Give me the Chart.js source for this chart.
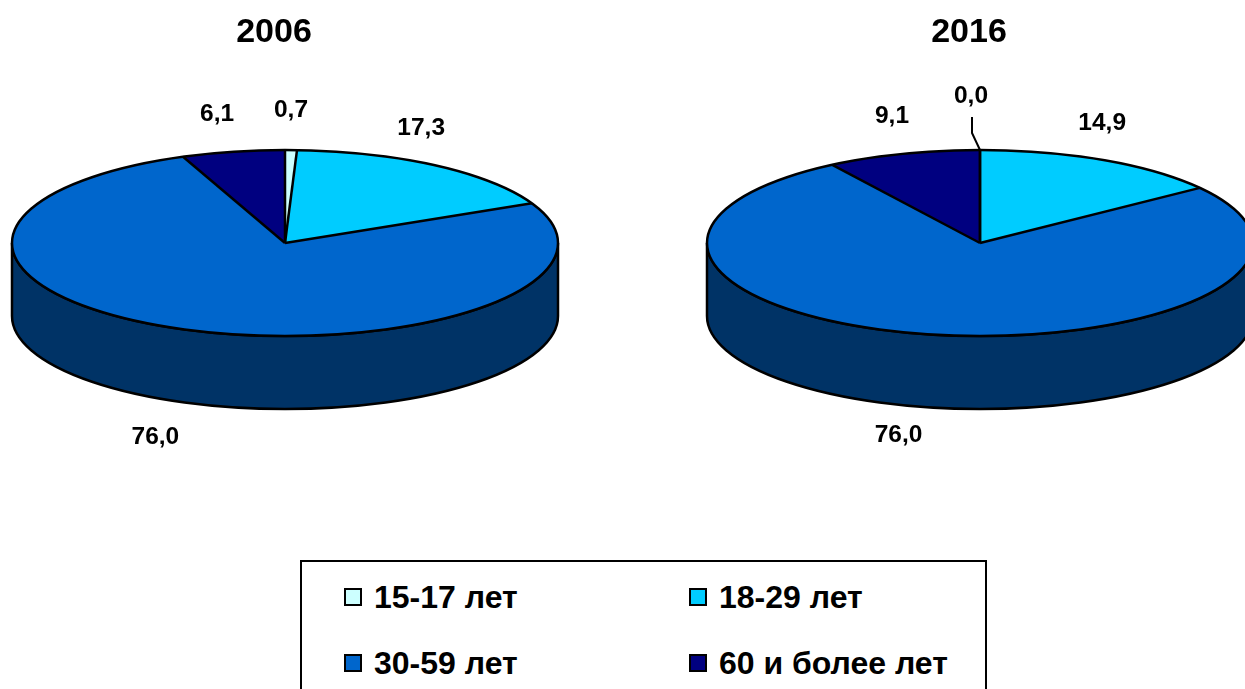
<!DOCTYPE html>
<html>
<head>
<meta charset="utf-8">
<script src="https://cdn.jsdelivr.net/npm/chart.js@4/dist/chart.umd.min.js"></script>
<style>
  html, body { margin: 0; padding: 0; background: #fff; }
  body { position: relative; width: 1245px; height: 689px; overflow: hidden; font-family: "Liberation Sans", Arial, sans-serif; }
  canvas { position: absolute; top: 0; }
  #pie1 { left: 0; }
  #pie2 { left: 695px; }
  #legendBox { position: absolute; left: 300px; top: 560px; width: 641px; height: 140px; border: 2px solid #000;
    display: grid; grid-template-columns: 345px 296px; grid-auto-rows: 66px; padding: 2px 0 0 42px; box-sizing: content-box; }
  .item { display: flex; align-items: center; font-weight: bold; font-size: 32px; color: #000; white-space: nowrap; }
  .swatch { width: 14px; height: 14px; border: 2px solid #000; margin-right: 12px; flex: none; }
</style>
</head>
<body>
<canvas id="pie1" width="570" height="480"></canvas>
<canvas id="pie2" width="570" height="480"></canvas>
<div id="legendBox"></div>
<script>
var categories = ['15-17 лет', '18-29 лет', '30-59 лет', '60 и более лет'];
var values2006 = [0.7, 17.3, 76.0, 6.1];
var values2016 = [0.0, 14.9, 76.0, 9.1];
var colors = ['#CCFFFF', '#00CCFF', '#0066CC', '#000080'];
var sideColor = '#003366';

var radiusX = 273;     // pie width on the page
var squash = 93 / 273; // ellipse height vs width
var depth = 73;        // height of the side wall

// where each value label sits, relative to the middle of its slice on the rim
var offsets2006 = [[0, -40], [-15, -37], [-30, 108], [-16, -37]];
var offsets2016 = [[-9, -54], [-1, -37], [-32, 101], [-11, -38]];

function rimPoint(arc, angle) {
  return { x: arc.x + radiusX * Math.cos(angle), y: arc.y + radiusX * squash * Math.sin(angle) };
}

var pie3d = {
  id: 'pie3d',
  afterLayout: function (chart) {   // title sits a bit left of the pie
    chart.titleBlock.left -= 11;
    chart.titleBlock.right -= 11;
  },
  beforeDatasetsDraw: function (chart) {
    var ctx = chart.ctx, arc = chart.getDatasetMeta(0).data[0];
    var cx = arc.x, cy = arc.y, ry = radiusX * squash;
    // side wall first
    ctx.save();
    ctx.beginPath();
    ctx.ellipse(cx, cy + depth, radiusX, ry, 0, Math.PI, 0, true);
    ctx.lineTo(cx + radiusX, cy);
    ctx.ellipse(cx, cy, radiusX, ry, 0, 0, Math.PI, false);
    ctx.closePath();
    ctx.fillStyle = sideColor;
    ctx.fill();
    ctx.lineWidth = 2.5;
    ctx.strokeStyle = '#000';
    ctx.stroke();
    ctx.restore();
    // then flatten the arcs chart.js draws
    ctx.save();
    ctx.translate(cx, cy);
    ctx.scale(1, squash);
    ctx.translate(-cx, -cy);
  },
  afterDatasetsDraw: function (chart, args, opts) {
    var ctx = chart.ctx, arcs = chart.getDatasetMeta(0).data;
    var values = chart.data.datasets[0].data;
    ctx.restore();
    var cx = arcs[0].x, cy = arcs[0].y;

    // outlines, drawn here so the line width is not squashed
    ctx.save();
    ctx.lineWidth = 2.5;
    ctx.strokeStyle = '#000';
    ctx.beginPath();
    ctx.ellipse(cx, cy, radiusX, radiusX * squash, 0, 0, Math.PI * 2);
    ctx.stroke();
    arcs.forEach(function (arc) {
      var p = rimPoint(arc, arc.startAngle);
      ctx.beginPath();
      ctx.moveTo(cx, cy);
      ctx.lineTo(p.x, p.y);
      ctx.stroke();
    });

    // value labels
    ctx.fillStyle = '#000';
    ctx.font = 'bold 24.5px "Liberation Sans", Arial, sans-serif';
    ctx.textAlign = 'center';
    ctx.textBaseline = 'middle';
    arcs.forEach(function (arc, i) {
      var p = rimPoint(arc, (arc.startAngle + arc.endAngle) / 2);
      var off = opts.offsets[i];
      ctx.fillText(values[i].toFixed(1).replace('.', ','), p.x + off[0], p.y + off[1]);
    });

    // leader line of the empty slice
    if (opts.leader !== undefined) {
      var q = rimPoint(arcs[opts.leader], arcs[opts.leader].startAngle);
      ctx.lineWidth = 2;
      ctx.beginPath();
      ctx.moveTo(q.x - 8, q.y - 33);
      ctx.lineTo(q.x - 8, q.y - 17);
      ctx.lineTo(q.x, q.y);
      ctx.stroke();
    }
    ctx.restore();
  }
};

function loadPie(id, year, values, offsets, leader) {
  return new Chart(document.getElementById(id), {
    type: 'pie',
    data: {
      labels: categories,
      datasets: [{
        data: values,
        backgroundColor: colors,
        borderWidth: 0,
        radius: radiusX,
        clip: false
      }]
    },
    options: {
      responsive: false,
      animation: false,
      layout: { padding: { bottom: 56.8 } },
      plugins: {
        legend: { display: false },
        tooltip: { enabled: false },
        title: {
          display: true,
          text: year,
          color: '#000',
          font: { family: '"Liberation Sans", Arial, sans-serif', size: 34, weight: 'bold' },
          padding: { top: 12, bottom: 10 }
        },
        pie3d: { offsets: offsets, leader: leader }
      }
    },
    plugins: [pie3d]
  });
}

loadPie('pie1', '2006', values2006, offsets2006);
loadPie('pie2', '2016', values2016, offsets2016, 0);

// legend box under the pies
var box = document.getElementById('legendBox');
categories.forEach(function (name, i) {
  var item = document.createElement('div');
  item.className = 'item';
  var sw = document.createElement('span');
  sw.className = 'swatch';
  sw.style.background = colors[i];
  item.appendChild(sw);
  item.appendChild(document.createTextNode(name));
  box.appendChild(item);
});
</script>
</body>
</html>
